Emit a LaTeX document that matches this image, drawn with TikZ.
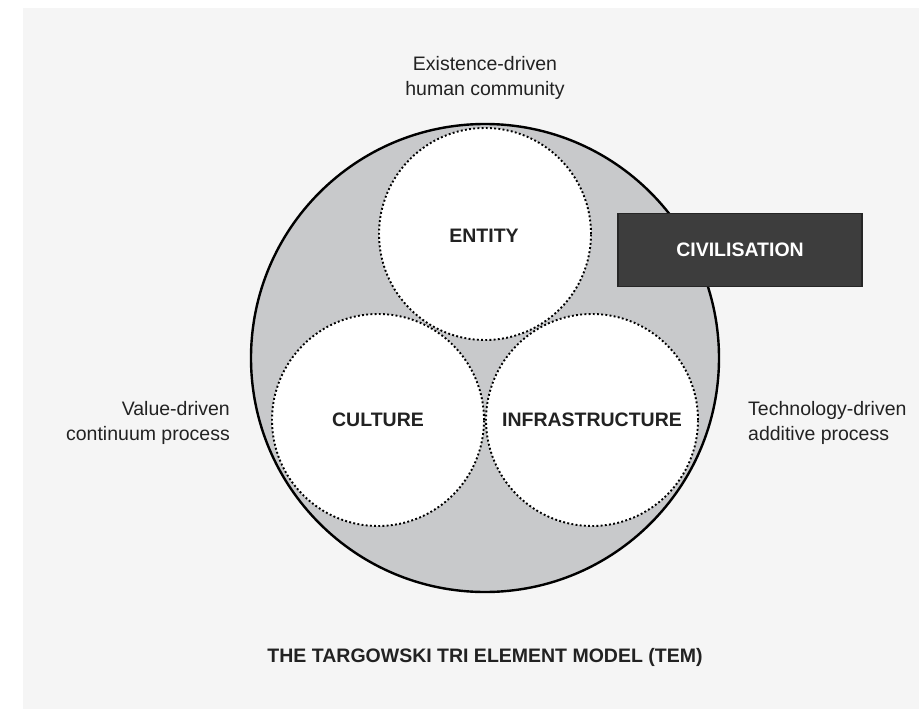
\documentclass[tikz,border=0pt]{standalone}
\usepackage{fontspec}
\setmainfont{Liberation Sans}
\definecolor{panel}{HTML}{F5F5F5}
\definecolor{ringfill}{HTML}{C8C9CB}
\definecolor{boxfill}{HTML}{3D3D3D}
\definecolor{boxline}{HTML}{262626}
\definecolor{ink}{HTML}{222222}
\begin{document}
\begin{tikzpicture}[x=1pt,y=-1pt,
  txt/.style={font=\fontsize{19.5}{24.5}\selectfont, text=ink, inner sep=0pt},
  head/.style={font=\fontsize{19.5}{24}\selectfont\bfseries, text=ink, inner sep=0pt},
  element/.style={circle, minimum size=212pt, inner sep=0pt, fill=white, draw=black,
    line width=1.9pt, dash pattern=on 1.9pt off 2.3pt},
  civbox/.style={rectangle, minimum width=244pt, minimum height=73pt, inner sep=0pt,
    fill=boxfill, draw=boxline, line width=1.2pt, text=white,
    font=\fontsize{19.5}{24}\selectfont\bfseries}]

% page and panel
\useasboundingbox (0,0) rectangle (919,709);
\fill[white] (0,0) rectangle (919,709);
\fill[panel] (23,8) rectangle (919,709);

% outer civilisation ring
\node[circle, minimum size=468pt, inner sep=0pt, fill=ringfill, draw=black, line width=2.4pt]
  (ring) at (485,358) {};

% the three elements
\node[element] (entity) at (485,234) {};
\node[element] (culture) at (378,420) {};
\node[element] (infra) at (592,420) {};
\node[head] (entitylbl) at (484,236) {ENTITY};
\node[head] (culturelbl) at (culture.center) {CULTURE};
\node[head] (infralbl) at (infra.center) {INFRASTRUCTURE};

% civilisation label box
\node[civbox] (civ) at (740,250) {CIVILISATION};

% side descriptions
\node[txt, align=center] (exist) at (485,78) {Existence-driven\\human community};
\node[txt, align=right, anchor=east] (value) at (230,423) {Value-driven\\continuum process};
\node[txt, align=left, anchor=west] (tech) at (748,423) {Technology-driven\\additive process};

% caption
\node[head] (title) at (485,657) {THE TARGOWSKI TRI ELEMENT MODEL (TEM)};
\end{tikzpicture}
\end{document}
